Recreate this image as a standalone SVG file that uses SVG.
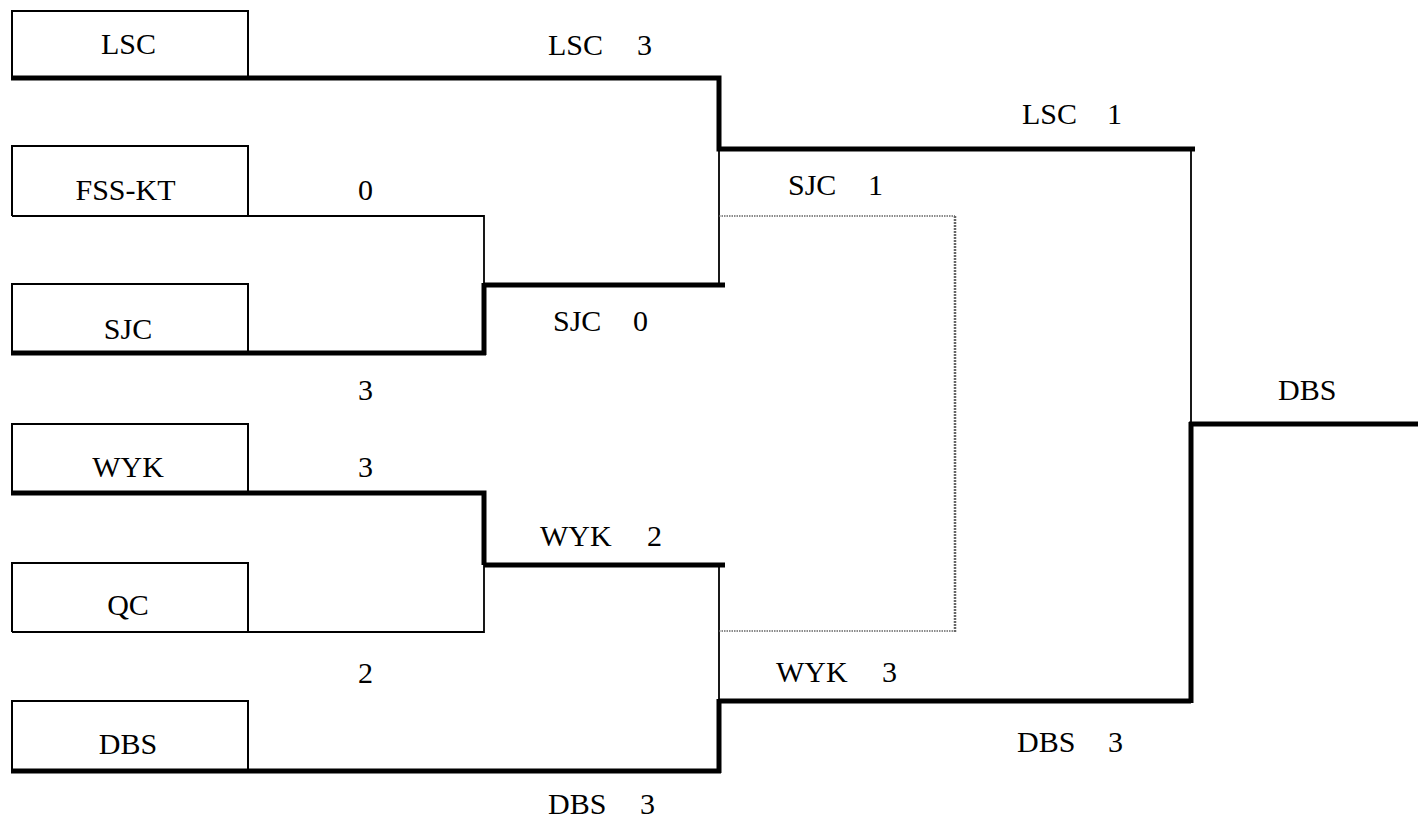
<svg xmlns="http://www.w3.org/2000/svg" width="1418" height="820" viewBox="0 0 1418 820">
<style>
text{font-family:"Liberation Serif","Times New Roman",serif;font-size:30px;fill:#000}
.box{fill:none;stroke:#000;stroke-width:2}
.thin{fill:none;stroke:#000;stroke-width:1.8}
.thick{fill:none;stroke:#000;stroke-width:5}
.dot{fill:none;stroke:#666;stroke-width:1.5;stroke-dasharray:1.5 1}
.dotv{fill:none;stroke:#666;stroke-width:2.5;stroke-dasharray:2 1}
</style>
<rect width="1418" height="820" fill="#fff"/>
<g id="connectors">
<path class="thin" d="M248,216 H484 V285"/>
<path class="thick" d="M484,283 V355"/>
<path class="thick" d="M11,78 H719 V149 H1195"/>
<path class="thick" d="M11,353 H486"/>
<path class="thick" d="M484,285 H725"/>
<path class="thin" d="M719,149 V285"/>
<path class="thick" d="M11,493 H484 V565"/>
<path class="thick" d="M484,565 H725"/>
<path class="thin" d="M248,632 H484 V565"/>
<path class="thin" d="M719,565 V701"/>
<path class="thick" d="M719,701 H1191"/>
<path class="thick" d="M719,699 V773"/>
<path class="thick" d="M11,771 H721"/>
<path class="thin" d="M1191,149 V424"/>
<path class="thick" d="M1191,703 V422"/>
<path class="thick" d="M1189,424 H1418"/>
<path class="dot" d="M719,216 H955"/>
<path class="dot" d="M719,631 H955"/>
<path class="dotv" d="M955,216 V632"/>
</g>
<g id="n-lsc"><path class="box" d="M12,78 V11 H248 V78"/><text x="128.5" y="54" text-anchor="middle">LSC</text></g>
<g id="n-fsskt"><path class="box" d="M12,216 V146 H248 V216 H12"/><text x="125.5" y="200" text-anchor="middle">FSS-KT</text></g>
<g id="n-sjc"><path class="box" d="M12,353 V284 H248 V353"/><text x="128" y="339" text-anchor="middle">SJC</text></g>
<g id="n-wyk"><path class="box" d="M12,493 V424 H248 V493"/><text x="128" y="477" text-anchor="middle">WYK</text></g>
<g id="n-qc"><path class="box" d="M12,632 V563 H248 V632 H12"/><text x="128" y="615" text-anchor="middle">QC</text></g>
<g id="n-dbs"><path class="box" d="M12,771 V701 H248 V771"/><text x="128" y="754" text-anchor="middle">DBS</text></g>
<g id="labels">
<text y="55"><tspan x="548">LSC</tspan><tspan x="637">3</tspan></text>
<text y="124"><tspan x="1022">LSC</tspan><tspan x="1107">1</tspan></text>
<text x="358" y="200">0</text>
<text y="195"><tspan x="788">SJC</tspan><tspan x="868">1</tspan></text>
<text y="331"><tspan x="553">SJC</tspan><tspan x="633">0</tspan></text>
<text x="358" y="400">3</text>
<text x="1278" y="400">DBS</text>
<text x="358" y="477">3</text>
<text y="546"><tspan x="540">WYK</tspan><tspan x="647">2</tspan></text>
<text x="358" y="683">2</text>
<text y="682"><tspan x="776">WYK</tspan><tspan x="882">3</tspan></text>
<text y="752"><tspan x="1017">DBS</tspan><tspan x="1108">3</tspan></text>
<text y="814"><tspan x="548">DBS</tspan><tspan x="640">3</tspan></text>
</g>
</svg>
